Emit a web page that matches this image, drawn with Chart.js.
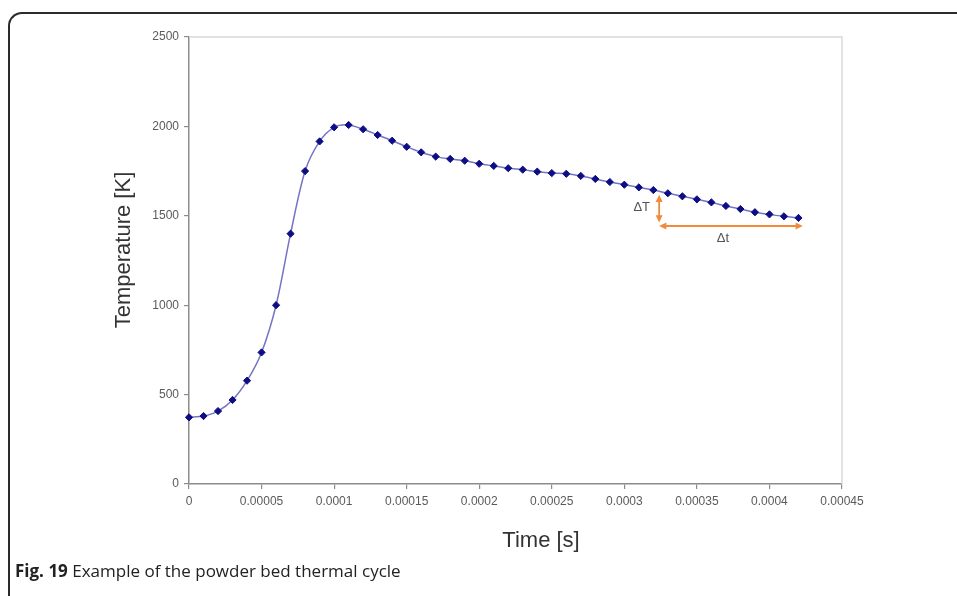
<!DOCTYPE html>
<html>
<head>
<meta charset="utf-8">
<title>Powder bed thermal cycle</title>
<script src="https://cdn.jsdelivr.net/npm/chart.js@4.4.0/dist/chart.umd.min.js"></script>
<style>
  html, body { margin:0; padding:0; background:#fff; }
  #wrap { position:relative; width:957px; height:596px; overflow:hidden; }
  #frame { position:absolute; left:8px; top:12px; width:1000px; height:640px;
           border-top:2px solid #2b2b2b; border-left:2px solid #2b2b2b; border-top-left-radius:14px; }
  #cycleChart { position:absolute; left:0; top:0; }
  #caption { position:absolute; left:15px; top:559px; font-family:"Open Sans", sans-serif;
             font-size:17px; color:#222; white-space:nowrap; }
  #caption b { font-weight:700; }
</style>
</head>
<body>
<div id="wrap">
  <div id="frame"></div>
  <canvas id="cycleChart" width="957" height="596"></canvas>
  <div id="caption"><b>Fig. 19</b> Example of the powder bed thermal cycle</div>
</div>
<script>
// time step of the simulation output, 0 .. 0.00042 s
const times = [
  0, 0.00001, 0.00002, 0.00003, 0.00004, 0.00005, 0.00006, 0.00007, 0.00008, 0.00009,
  0.0001, 0.00011, 0.00012, 0.00013, 0.00014, 0.00015, 0.00016, 0.00017, 0.00018, 0.00019,
  0.0002, 0.00021, 0.00022, 0.00023, 0.00024, 0.00025, 0.00026, 0.00027, 0.00028, 0.00029,
  0.0003, 0.00031, 0.00032, 0.00033, 0.00034, 0.00035, 0.00036, 0.00037, 0.00038, 0.00039,
  0.0004, 0.00041, 0.00042
];
// temperature [K]
const temps = [
  373, 380, 408, 470, 578, 736, 1000, 1400, 1750, 1916,
  1995, 2008, 1984, 1952, 1920, 1886, 1855, 1831, 1818, 1808,
  1791, 1779, 1766, 1758, 1747, 1739, 1735, 1723, 1706, 1689,
  1674, 1659, 1644, 1626, 1609, 1592, 1575, 1555, 1538, 1520,
  1508, 1497, 1488
];
const xTickLabels = ['0','0.00005','0.0001','0.00015','0.0002','0.00025','0.0003','0.00035','0.0004','0.00045'];
const yTickLabels = ['0','500','1000','1500','2000','2500'];

// delta-T / delta-t markers: [time, temperature]
const dTArrow = [[0.000324, 1618], [0.000324, 1463]];
const dtArrow = [[0.000324, 1443], [0.000423, 1443]];
const dTLabel = [0.000312, 1549];
const dtLabel = [0.000368, 1372];

const points = times.map((t, i) => ({ x: t, y: temps[i] }));

const axisGrey = '#8c8c8c';
const orange = '#f28a3a';

function arrowHead(ctx, x, y, ang, size) {
  ctx.beginPath();
  ctx.moveTo(x, y);
  ctx.lineTo(x - size * Math.cos(ang - 0.45), y - size * Math.sin(ang - 0.45));
  ctx.lineTo(x - size * Math.cos(ang + 0.45), y - size * Math.sin(ang + 0.45));
  ctx.closePath();
  ctx.fill();
}

// plot-area outline, axis titles and the delta markers
const decor = {
  id: 'decor',
  beforeDatasetsDraw(chart) {
    const { ctx, chartArea: a } = chart;
    ctx.save();
    ctx.strokeStyle = '#d9d9d9';
    ctx.lineWidth = 1.5;
    ctx.beginPath();
    ctx.moveTo(a.left, a.top);
    ctx.lineTo(a.right, a.top);
    ctx.lineTo(a.right, a.bottom);
    ctx.stroke();
    ctx.restore();
  },
  afterDraw(chart) {
    const { ctx, scales: { x, y } } = chart;
    ctx.save();
    ctx.fillStyle = '#333';
    ctx.font = '22px "Liberation Sans", Arial, sans-serif';
    ctx.textAlign = 'center';
    ctx.textBaseline = 'middle';
    ctx.fillText('Time [s]', 541, 541);
    ctx.translate(124, 250);
    ctx.rotate(-Math.PI / 2);
    ctx.fillText('Temperature [K]', 0, 0);
    ctx.restore();

    ctx.save();
    ctx.strokeStyle = orange;
    ctx.fillStyle = orange;
    ctx.lineWidth = 1.8;
    const px = p => [x.getPixelForValue(p[0]), y.getPixelForValue(p[1])];
    [dTArrow, dtArrow].forEach(seg => {
      const [x1, y1] = px(seg[0]);
      const [x2, y2] = px(seg[1]);
      const ang = Math.atan2(y2 - y1, x2 - x1);
      ctx.beginPath();
      ctx.moveTo(x1 + 4 * Math.cos(ang), y1 + 4 * Math.sin(ang));
      ctx.lineTo(x2 - 4 * Math.cos(ang), y2 - 4 * Math.sin(ang));
      ctx.stroke();
      arrowHead(ctx, x2, y2, ang, 8);
      arrowHead(ctx, x1, y1, ang + Math.PI, 8);
    });
    ctx.fillStyle = '#555';
    ctx.font = '13px "Liberation Sans", Arial, sans-serif';
    ctx.textAlign = 'center';
    ctx.textBaseline = 'middle';
    let [lx, ly] = px(dTLabel);
    ctx.fillText('\u0394T', lx, ly);
    [lx, ly] = px(dtLabel);
    ctx.fillText('\u0394t', lx, ly);
    ctx.restore();
  }
};

new Chart(document.getElementById('cycleChart'), {
  type: 'scatter',
  data: {
    datasets: [{
      label: 'Temperature',
      data: points,
      showLine: true,
      clip: false,
      tension: 0.3,
      borderColor: '#7474c4',
      borderWidth: 1.5,
      pointStyle: 'rectRot',
      pointRadius: 3.6,
      pointBackgroundColor: '#0d0d85',
      pointBorderColor: '#0d0d85',
      pointBorderWidth: 1
    }]
  },
  options: {
    responsive: false,
    animation: false,
    layout: { padding: { left: 0, top: 37, right: 115, bottom: 0 } },
    plugins: { legend: { display: false }, tooltip: { enabled: false } },
    scales: {
      x: {
        type: 'linear',
        min: 0, max: 0.00045,
        afterFit(s) { s.height = 112; },
        afterBuildTicks(s) { s.ticks = xTickLabels.map(v => ({ value: Number(v) })); },
        ticks: {
          color: '#5a5a5a', padding: 5,
          font: { family: '"Liberation Sans", Arial, sans-serif', size: 12 },
          maxRotation: 0, autoSkip: false,
          callback: (v, i) => xTickLabels[i]
        },
        grid: { drawOnChartArea: false, drawTicks: true, tickLength: 5, color: axisGrey, lineWidth: 1.2 },
        border: { color: axisGrey, width: 1.5 }
      },
      y: {
        min: 0, max: 2500,
        afterFit(s) { s.width = 189; },
        afterBuildTicks(s) { s.ticks = yTickLabels.map(v => ({ value: Number(v) })); },
        ticks: {
          color: '#5a5a5a', padding: 5,
          font: { family: '"Liberation Sans", Arial, sans-serif', size: 12 },
          callback: (v, i) => yTickLabels[i]
        },
        grid: { drawOnChartArea: false, drawTicks: true, tickLength: 5, color: axisGrey, lineWidth: 1.2 },
        border: { color: axisGrey, width: 1.5 }
      }
    }
  },
  plugins: [decor]
});
</script>
</body>
</html>
